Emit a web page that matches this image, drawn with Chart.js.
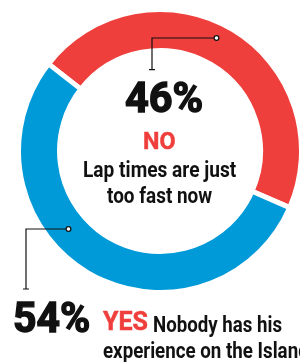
<!DOCTYPE html>
<html>
<head>
<meta charset="utf-8">
<script src="https://cdn.jsdelivr.net/npm/chart.js@4.4.0/dist/chart.umd.min.js"></script>
<style>
  html, body { margin: 0; padding: 0; background: #fff; }
  body { width: 300px; height: 362px; overflow: hidden; position: relative;
         font-family: "Roboto", "Liberation Sans", sans-serif; font-weight: bold; }
  #wrap { position: absolute; left: 16px; top: 7px; width: 288px; height: 288px; }
  .t { position: absolute; white-space: nowrap; color: #111; line-height: 1; transform-origin: 0 0; }
  .big { -webkit-text-stroke: 1.4px #111; }
  .red { color: #ef3f3c; -webkit-text-stroke: 0.5px #ef3f3c; }
</style>
</head>
<body>
<div id="wrap"><canvas id="pollChart"></canvas></div>
<div class="t fit big" data-x="125" data-w="78" style="top:77px;font-size:42px;">46%</div>
<div class="t fit red" data-x="143" data-w="32" style="top:129px;font-size:24px;">NO</div>
<div class="t fit" data-x="83" data-w="153" style="top:159px;font-size:22px;">Lap times are just</div>
<div class="t fit" data-x="107" data-w="105" style="top:185px;font-size:22px;">too fast now</div>
<div class="t fit big" data-x="13" data-w="77" style="top:297px;font-size:42px;">54%</div>
<div class="t fit red" data-x="103" data-w="45" style="top:309px;font-size:25px;">YES</div>
<div class="t fit" data-x="153" data-w="129" style="top:314px;font-size:22px;">Nobody has his</div>
<div class="t fit" data-x="103" data-w="206" style="top:340px;font-size:22px;">experience on the Island</div>
<script>
// poll results
const answers = ['NO', 'YES'];
const shares = [46, 54];
const sliceColors = ['#ef3f3c', '#009ad8'];

// squeeze text to a condensed look
document.querySelectorAll('.fit').forEach(function (el) {
    el.style.left = el.dataset.x + 'px';
    el.style.transform = 'scaleX(' + (el.dataset.w / el.offsetWidth) + ')';
});

// leader lines drawn off the ring geometry
const leaders = {
    id: 'leaders',
    afterDatasetsDraw(chart) {
        const arc = chart.getDatasetMeta(0).data[0];
        const { x, y, innerRadius } = arc.getProps(['x', 'y', 'innerRadius'], true);
        const c = chart.ctx;
        c.save();
        c.strokeStyle = '#111';
        c.fillStyle = '#fff';
        c.lineWidth = 1.2;

        // NO callout (top)
        const ax = x - 8, ay = y - innerRadius + 19;
        const topY = y - 113;
        c.beginPath();
        c.moveTo(ax - 3, ay); c.lineTo(ax + 3, ay);
        c.moveTo(ax, ay); c.lineTo(ax, topY); c.lineTo(ax + 62, topY);
        c.stroke();
        c.beginPath();
        c.arc(ax + 64.5, topY, 2.4, 0, Math.PI * 2); c.fill(); c.stroke();

        // YES callout (bottom left)
        const bx = x - 92, by = y + 78;
        c.beginPath();
        c.moveTo(bx - 2, by); c.lineTo(bx - 42, by); c.lineTo(bx - 42, by + 60);
        c.moveTo(bx - 45, by + 60); c.lineTo(bx - 39, by + 60);
        c.stroke();
        c.beginPath();
        c.arc(bx + 0.5, by, 2.4, 0, Math.PI * 2); c.fill(); c.stroke();
        c.restore();
    }
};

new Chart(document.getElementById('pollChart'), {
    type: 'doughnut',
    data: {
        labels: answers,
        datasets: [{
            data: shares,
            backgroundColor: sliceColors,
            borderColor: '#fff',
            borderWidth: 5
        }]
    },
    options: {
        responsive: true,
        maintainAspectRatio: false,
        animation: false,
        rotation: -52,
        cutout: '71%',
        layout: { padding: 0 },
        plugins: {
            legend: { display: false },
            tooltip: { enabled: false }
        }
    },
    plugins: [leaders]
});
</script>
</body>
</html>
